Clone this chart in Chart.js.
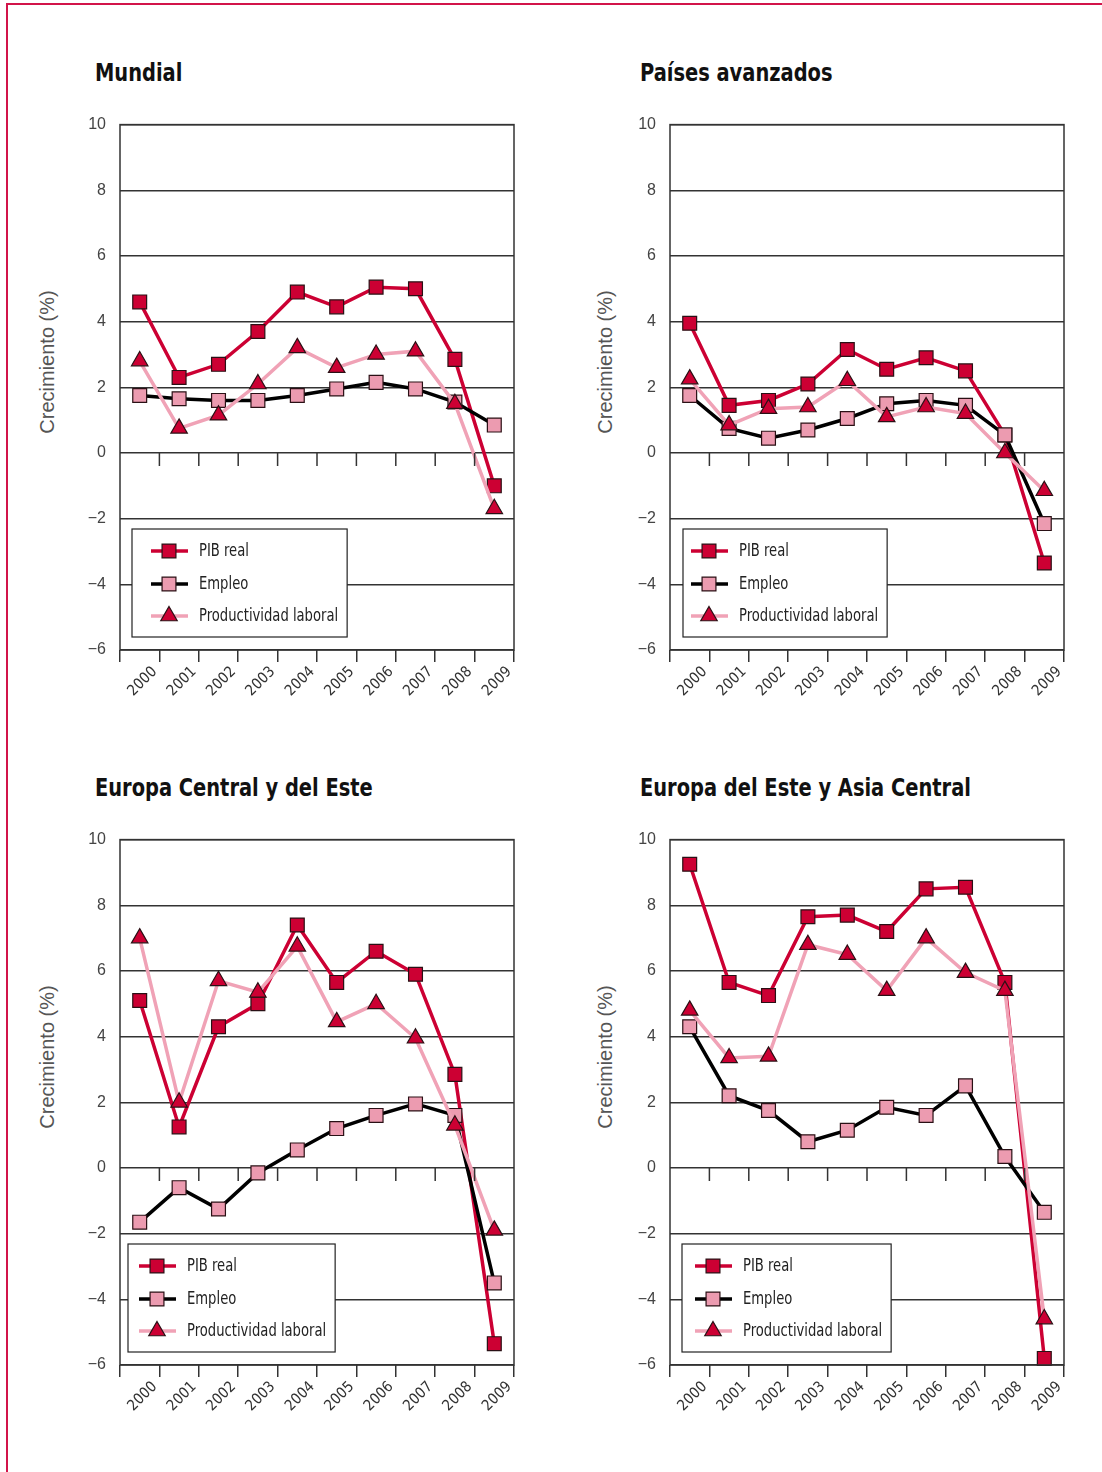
<!DOCTYPE html>
<html>
<head>
<meta charset="utf-8">
<script src="https://cdn.jsdelivr.net/npm/chart.js@4/dist/chart.umd.min.js"></script>
<style>
  body { margin: 0; background: #fff; }
  #page { position: relative; width: 1102px; height: 1472px; overflow: hidden; }
  #frame { position: absolute; left: 6px; top: 3px; width: 1100px; height: 1480px;
    border-top: 2px solid #d2144a; border-left: 2px solid #d2144a; }
  .title { position: absolute; font-family: "Liberation Sans Narrow", "DejaVu Sans Condensed", sans-serif;
    font-weight: bold; font-size: 24px; color: #111; white-space: nowrap; line-height: 28px;
    transform: scaleX(0.9); transform-origin: left center; }
  .ytitle { position: absolute; font-family: "Liberation Sans", Arial, sans-serif; font-size: 20px;
    color: #555; white-space: nowrap; transform: translate(-50%, -50%) rotate(-90deg); line-height: 22px; }
  .box { position: absolute; width: 500px; height: 609px; }
</style>
</head>
<body>
<div id="page">
  <div id="frame"></div>
  <div class="title" style="left:95px;top:59px">Mundial</div>
  <div class="title" style="left:640px;top:59px">Países avanzados</div>
  <div class="title" style="left:95px;top:774px">Europa Central y del Este</div>
  <div class="title" style="left:640px;top:774px">Europa del Este y Asia Central</div>
  <div class="ytitle" style="left:47px;top:362px">Crecimiento (%)</div>
  <div class="ytitle" style="left:605px;top:362px">Crecimiento (%)</div>
  <div class="ytitle" style="left:47px;top:1057px">Crecimiento (%)</div>
  <div class="ytitle" style="left:605px;top:1057px">Crecimiento (%)</div>
  <div class="box" style="left:30px;top:101px"><canvas id="c1"></canvas></div>
  <div class="box" style="left:580px;top:101px"><canvas id="c2"></canvas></div>
  <div class="box" style="left:30px;top:816px"><canvas id="c3"></canvas></div>
  <div class="box" style="left:580px;top:816px"><canvas id="c4"></canvas></div>
</div>
<script>
// data
const years = ["2000", "2001", "2002", "2003", "2004", "2005", "2006", "2007", "2008", "2009"];
const seriesNames = ["PIB real", "Empleo", "Productividad laboral"];

const mundialPib = [4.6, 2.3, 2.7, 3.7, 4.9, 4.45, 5.05, 5.0, 2.85, -1.0];
const mundialEmpleo = [1.75, 1.65, 1.6, 1.6, 1.75, 1.95, 2.15, 1.95, 1.55, 0.85];
const mundialProd = [2.8, 0.75, 1.15, 2.1, 3.2, 2.6, 3.0, 3.1, 1.5, -1.7];

const avanzadosPib = [3.95, 1.45, 1.6, 2.1, 3.15, 2.55, 2.9, 2.5, 0.55, -3.35];
const avanzadosEmpleo = [1.75, 0.75, 0.45, 0.7, 1.05, 1.5, 1.6, 1.45, 0.55, -2.15];
const avanzadosProd = [2.25, 0.85, 1.35, 1.4, 2.2, 1.1, 1.4, 1.2, 0.0, -1.15];

const centralPib = [5.1, 1.25, 4.3, 5.0, 7.4, 5.65, 6.6, 5.9, 2.85, -5.35];
const centralEmpleo = [-1.65, -0.6, -1.25, -0.15, 0.55, 1.2, 1.6, 1.95, 1.6, -3.5];
const centralProd = [7.0, 2.0, 5.7, 5.35, 6.75, 4.45, 5.0, 3.95, 1.3, -1.9];

const asiaPib = [9.25, 5.65, 5.25, 7.65, 7.7, 7.2, 8.5, 8.55, 5.65, -5.8];
const asiaEmpleo = [4.3, 2.2, 1.75, 0.8, 1.15, 1.85, 1.6, 2.5, 0.35, -1.35];
const asiaProd = [4.8, 3.35, 3.4, 6.8, 6.5, 5.4, 7.0, 5.95, 5.4, -4.6];

const yMin = -6, yMax = 10, yStep = 2;

const CRIMSON = "#cc0033";
const PINK = "#ec9bb0";
const PINK_LINE = "#f0a2b6";
const EDGE = "#2a1015";
const NARROW = '"Liberation Sans Narrow", "DejaVu Sans Condensed", sans-serif';

// box around plot, little ticks hanging from the zero line
const framePlugin = {
  id: "frame",
  afterDraw(chart) {
    const ctx = chart.ctx, a = chart.chartArea;
    const xs = chart.scales.x, ys = chart.scales.y;
    ctx.save();
    ctx.strokeStyle = "#333";
    ctx.lineWidth = 1.5;
    ctx.strokeRect(a.left, a.top, a.right - a.left, a.bottom - a.top);
    const y0 = ys.getPixelForValue(0);
    ctx.beginPath();
    for (let i = 1; i < years.length; i++) {
      const x = (xs.getPixelForTick(i - 1) + xs.getPixelForTick(i)) / 2;
      ctx.moveTo(x, y0);
      ctx.lineTo(x, y0 + 13);
    }
    ctx.stroke();
    ctx.restore();
  }
};

// boxed legend inside the plot, lower left
const boxLegend = {
  id: "boxLegend",
  afterDraw(chart, args, opts) {
    const ctx = chart.ctx, a = chart.chartArea;
    const ds = chart.data.datasets;
    const sx = 0.86;
    ctx.save();
    ctx.font = "17px " + NARROW;
    let tw = 0;
    ds.forEach(d => { tw = Math.max(tw, ctx.measureText(d.label).width * sx); });
    const left = a.left + opts.dx;
    const top = a.bottom - 121;
    const w = opts.textX + tw + 9;
    ctx.fillStyle = "#fff";
    ctx.fillRect(left, top, w, 108);
    ctx.strokeStyle = "#222";
    ctx.lineWidth = 1.2;
    ctx.strokeRect(left, top, w, 108);
    const rows = [22, 55, 87];
    ds.forEach((d, i) => {
      const y = top + rows[i];
      const tx = left + opts.textX;
      ctx.strokeStyle = d.borderColor;
      ctx.lineWidth = 3.5;
      ctx.beginPath();
      ctx.moveTo(tx - 48, y);
      ctx.lineTo(tx - 11, y);
      ctx.stroke();
      ctx.fillStyle = d.pointBackgroundColor;
      ctx.strokeStyle = d.pointBorderColor;
      ctx.lineWidth = d.pointBorderWidth;
      Chart.helpers.drawPoint(ctx, { pointStyle: d.pointStyle, rotation: 0, radius: d.pointRadius, borderWidth: d.pointBorderWidth }, tx - 30, y);
      ctx.save();
      ctx.translate(tx, y + 1);
      ctx.scale(sx, 1);
      ctx.fillStyle = "#222";
      ctx.textBaseline = "middle";
      ctx.textAlign = "left";
      ctx.fillText(d.label, 0, 0);
      ctx.restore();
    });
    ctx.restore();
  }
};

function makeChart(id, pib, empleo, prod, legendDx, legendTextX) {
  const ctx = document.getElementById(id);
  return new Chart(ctx, {
    type: "line",
    data: {
      labels: years,
      datasets: [
        {
          label: seriesNames[0],
          data: pib,
          order: 3,
          borderColor: CRIMSON,
          borderWidth: 3.5,
          pointStyle: "rect",
          pointRadius: 9.8,
          pointBackgroundColor: CRIMSON,
          pointBorderColor: EDGE,
          pointBorderWidth: 1.2,
          tension: 0,
        },
        {
          label: seriesNames[1],
          data: empleo,
          order: 2,
          borderColor: "#000",
          borderWidth: 3.5,
          pointStyle: "rect",
          pointRadius: 9.8,
          pointBackgroundColor: PINK,
          pointBorderColor: EDGE,
          pointBorderWidth: 1.2,
          tension: 0,
        },
        {
          label: seriesNames[2],
          data: prod,
          order: 1,
          borderColor: PINK_LINE,
          borderWidth: 3.5,
          pointStyle: "triangle",
          pointRadius: 9.5,
          pointBackgroundColor: CRIMSON,
          pointBorderColor: EDGE,
          pointBorderWidth: 1.2,
          tension: 0,
        },
      ],
    },
    options: {
      responsive: true,
      maintainAspectRatio: false,
      animation: false,
      clip: false,
      layout: { padding: { top: 0, right: 16, bottom: 0, left: 0 } },
      plugins: {
        legend: { display: false },
        tooltip: { enabled: false },
        boxLegend: { dx: legendDx, textX: legendTextX },
      },
      scales: {
        x: {
          type: "category",
          offset: true,
          afterFit(s) { s.height = 60; },
          grid: { offset: true, drawOnChartArea: false, drawTicks: true, tickLength: 12, color: "#333", lineWidth: 1.5 },
          border: { display: false },
          ticks: {
            minRotation: 45,
            maxRotation: 45,
            labelOffset: 15,
            padding: 1,
            color: "#333",
            font: { family: NARROW, size: 15 },
          },
        },
        y: {
          min: yMin,
          max: yMax,
          afterFit(s) { s.width = 90; },
          grid: { drawTicks: false, color: "#333", lineWidth: 1.5 },
          border: { display: false },
          ticks: {
            stepSize: yStep,
            padding: 14,
            color: "#444",
            font: { family: '"Liberation Sans", Arial, sans-serif', size: 16 },
            callback: v => (v < 0 ? "\u2212" + Math.abs(v) : String(v)),
          },
        },
      },
    },
    plugins: [framePlugin, boxLegend],
  });
}

makeChart("c1", mundialPib, mundialEmpleo, mundialProd, 12, 67);
makeChart("c2", avanzadosPib, avanzadosEmpleo, avanzadosProd, 13, 56);
makeChart("c3", centralPib, centralEmpleo, centralProd, 8, 59);
makeChart("c4", asiaPib, asiaEmpleo, asiaProd, 12, 61);
</script>
</body>
</html>
